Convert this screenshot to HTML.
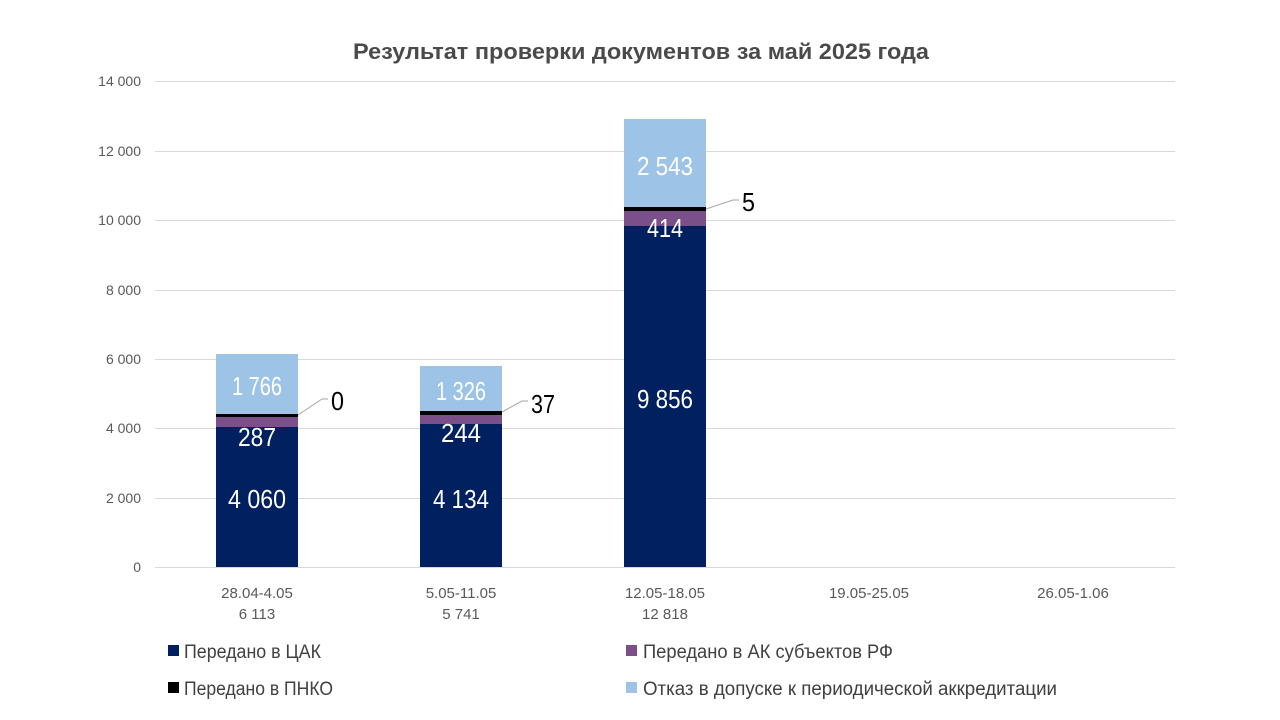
<!DOCTYPE html>
<html><head><meta charset="utf-8"><style>
html,body{margin:0;padding:0;background:#fff;}
svg{display:block;font-family:"Liberation Sans",sans-serif;}
</style></head><body>
<svg width="1280" height="720" viewBox="0 0 1280 720" xmlns="http://www.w3.org/2000/svg">
<rect width="1280" height="720" fill="#fff"/>
<text x="641" y="59" text-anchor="middle" font-size="22" font-weight="bold" fill="#4a4a4a" textLength="576" lengthAdjust="spacingAndGlyphs">Результат проверки документов за май 2025 года</text>
<g stroke="#d9d9d9" stroke-width="1">
<line x1="155" x2="1175" y1="81.5" y2="81.5"/>
<line x1="155" x2="1175" y1="151.5" y2="151.5"/>
<line x1="155" x2="1175" y1="220.5" y2="220.5"/>
<line x1="155" x2="1175" y1="290.5" y2="290.5"/>
<line x1="155" x2="1175" y1="359.5" y2="359.5"/>
<line x1="155" x2="1175" y1="428.5" y2="428.5"/>
<line x1="155" x2="1175" y1="498.5" y2="498.5"/>
<line x1="155" x2="1175" y1="567.5" y2="567.5"/>
</g>
<g font-size="14" fill="#595959" text-anchor="end">
<text x="141" y="86">14 000</text><text x="141" y="156">12 000</text>
<text x="141" y="225">10 000</text><text x="141" y="295">8 000</text>
<text x="141" y="364">6 000</text><text x="141" y="433">4 000</text>
<text x="141" y="503">2 000</text><text x="141" y="572">0</text>
</g>
<rect x="216" y="354" width="82" height="61" fill="#9dc3e6"/>
<rect x="216" y="414" width="82" height="3" fill="#000"/>
<rect x="216" y="417" width="82" height="10" fill="#7a4f8a"/>
<rect x="216" y="427" width="82" height="140" fill="#002060"/>
<rect x="420" y="366" width="82" height="46" fill="#9dc3e6"/>
<rect x="420" y="411" width="82" height="4" fill="#000"/>
<rect x="420" y="415" width="82" height="9" fill="#7a4f8a"/>
<rect x="420" y="424" width="82" height="143" fill="#002060"/>
<rect x="624" y="119" width="82" height="89" fill="#9dc3e6"/>
<rect x="624" y="207" width="82" height="4" fill="#000"/>
<rect x="624" y="211" width="82" height="15" fill="#7a4f8a"/>
<rect x="624" y="226" width="82" height="341" fill="#002060"/>
<g fill="#fff" font-size="26" text-anchor="middle">
<text x="257" y="395" textLength="50" lengthAdjust="spacingAndGlyphs">1 766</text>
<text x="257" y="446" textLength="38" lengthAdjust="spacingAndGlyphs">287</text>
<text x="257" y="508" textLength="58" lengthAdjust="spacingAndGlyphs">4 060</text>
<text x="461" y="400" textLength="50" lengthAdjust="spacingAndGlyphs">1 326</text>
<text x="461" y="442" textLength="40" lengthAdjust="spacingAndGlyphs">244</text>
<text x="461" y="508" textLength="56" lengthAdjust="spacingAndGlyphs">4 134</text>
<text x="665" y="175" textLength="56" lengthAdjust="spacingAndGlyphs">2 543</text>
<text x="665" y="237" textLength="36" lengthAdjust="spacingAndGlyphs">414</text>
<text x="665" y="408" textLength="56" lengthAdjust="spacingAndGlyphs">9 856</text>
</g>
<g stroke="#a6a6a6" stroke-width="1" fill="none">
<polyline points="298,415 322,399 328,399"/>
<polyline points="502,412 522,401 528,401"/>
<polyline points="706,209 733,200 739,200"/>
</g>
<g font-size="26" fill="#000">
<text x="331" y="410" textLength="13" lengthAdjust="spacingAndGlyphs">0</text>
<text x="531" y="413" textLength="24" lengthAdjust="spacingAndGlyphs">37</text>
<text x="742" y="211" textLength="13" lengthAdjust="spacingAndGlyphs">5</text>
</g>
<g font-size="15" fill="#595959" text-anchor="middle">
<text x="257" y="598">28.04-4.05</text><text x="257" y="619">6 113</text>
<text x="461" y="598">5.05-11.05</text><text x="461" y="619">5  741</text>
<text x="665" y="598">12.05-18.05</text><text x="665" y="619">12 818</text>
<text x="869" y="598">19.05-25.05</text>
<text x="1073" y="598">26.05-1.06</text>
</g>
<g font-size="19" fill="#404040">
<rect x="168" y="645" width="11" height="11" fill="#002060"/><text x="184" y="658" textLength="137" lengthAdjust="spacingAndGlyphs">Передано в ЦАК</text>
<rect x="626" y="645" width="11" height="11" fill="#7a4f8a"/><text x="643" y="658" textLength="250" lengthAdjust="spacingAndGlyphs">Передано в АК субъектов РФ</text>
<rect x="168" y="682" width="11" height="11" fill="#000"/><text x="184" y="695" textLength="149" lengthAdjust="spacingAndGlyphs">Передано в ПНКО</text>
<rect x="626" y="682" width="11" height="11" fill="#9dc3e6"/><text x="643" y="695" textLength="414" lengthAdjust="spacingAndGlyphs">Отказ в допуске к периодической аккредитации</text>
</g>
</svg>
</body></html>
